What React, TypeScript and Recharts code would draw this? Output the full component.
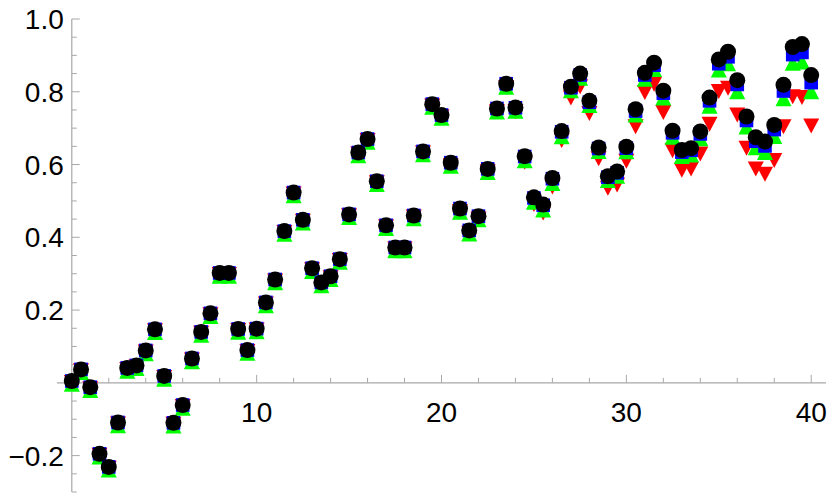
import React from "react";
import {
  ReferenceDot,
  ReferenceLine,
  Scatter,
  ScatterChart,
  XAxis,
  YAxis,
} from "recharts";

// x positions of the samples
const xs = [
  0, 0.5, 1, 1.5, 2, 2.5, 3, 3.5, 4, 4.5, 5, 5.5, 6, 6.5, 7, 7.5, 8, 8.5, 9,
  9.5, 10, 10.5, 11, 11.5, 12, 12.5, 13, 13.5, 14, 14.5, 15, 15.5, 16, 16.5,
  17, 17.5, 18, 18.5, 19, 19.5, 20, 20.5, 21, 21.5, 22, 22.5, 23, 23.5, 24,
  24.5, 25, 25.5, 26, 26.5, 27, 27.5, 28, 28.5, 29, 29.5, 30, 30.5, 31, 31.5,
  32, 32.5, 33, 33.5, 34, 34.5, 35, 35.5, 36, 36.5, 37, 37.5, 38, 38.5, 39,
  39.5, 40,
];

const blackVals = [
  0.005, 0.037, -0.012, -0.195, -0.231, -0.109, 0.041, 0.048, 0.089, 0.147,
  0.019, -0.11, -0.061, 0.067, 0.14, 0.191, 0.302, 0.302, 0.148, 0.09, 0.149,
  0.221, 0.284, 0.417, 0.523, 0.448, 0.315, 0.276, 0.293, 0.34, 0.463, 0.633,
  0.67, 0.554, 0.433, 0.372, 0.372, 0.46, 0.636, 0.766, 0.736, 0.605, 0.479,
  0.419, 0.458, 0.588, 0.754, 0.822, 0.757, 0.623, 0.51, 0.49, 0.563, 0.692,
  0.814, 0.85, 0.775, 0.647, 0.568, 0.581, 0.649, 0.752, 0.852, 0.88, 0.803,
  0.693, 0.64, 0.645, 0.691, 0.784, 0.889, 0.91, 0.832, 0.732, 0.675, 0.663,
  0.709, 0.819, 0.923, 0.931, 0.846,
];

const blueVals = [
  0.004, 0.036, -0.013, -0.196, -0.232, -0.11, 0.04, 0.047, 0.088, 0.146,
  0.018, -0.111, -0.062, 0.066, 0.139, 0.19, 0.301, 0.301, 0.147, 0.089, 0.148,
  0.22, 0.283, 0.416, 0.522, 0.447, 0.314, 0.275, 0.292, 0.339, 0.462, 0.632,
  0.669, 0.553, 0.432, 0.371, 0.371, 0.459, 0.635, 0.765, 0.735, 0.604, 0.478,
  0.418, 0.457, 0.587, 0.753, 0.821, 0.755, 0.621, 0.507, 0.487, 0.56, 0.689,
  0.81, 0.845, 0.77, 0.643, 0.564, 0.576, 0.644, 0.746, 0.845, 0.872, 0.795,
  0.686, 0.633, 0.638, 0.683, 0.774, 0.876, 0.895, 0.819, 0.72, 0.663, 0.65,
  0.695, 0.801, 0.901, 0.907, 0.824,
];

const greenVals = [
  0.003, 0.035, -0.014, -0.197, -0.233, -0.111, 0.039, 0.046, 0.087, 0.145,
  0.017, -0.112, -0.063, 0.065, 0.138, 0.189, 0.3, 0.3, 0.146, 0.088, 0.147,
  0.219, 0.282, 0.415, 0.521, 0.446, 0.313, 0.274, 0.291, 0.338, 0.461, 0.631,
  0.668, 0.552, 0.431, 0.37, 0.37, 0.458, 0.634, 0.764, 0.734, 0.602, 0.476,
  0.416, 0.455, 0.585, 0.751, 0.819, 0.753, 0.617, 0.503, 0.482, 0.555, 0.683,
  0.81, 0.844, 0.769, 0.643, 0.563, 0.575, 0.642, 0.743, 0.841, 0.868, 0.79,
  0.682, 0.629, 0.633, 0.678, 0.767, 0.867, 0.884, 0.807, 0.71, 0.653, 0.64,
  0.684, 0.788, 0.885, 0.889, 0.807,
];

const redVals = [
  0.001, 0.033, -0.016, -0.199, -0.235, -0.113, 0.037, 0.044, 0.085, 0.143,
  0.015, -0.114, -0.065, 0.063, 0.136, 0.187, 0.298, 0.298, 0.144, 0.086, 0.145,
  0.217, 0.28, 0.413, 0.519, 0.444, 0.311, 0.272, 0.289, 0.336, 0.459, 0.629,
  0.666, 0.55, 0.429, 0.368, 0.368, 0.456, 0.632, 0.761, 0.731, 0.597, 0.471,
  0.411, 0.45, 0.58, 0.745, 0.812, 0.745, 0.606, 0.49, 0.467, 0.538, 0.666,
  0.783, 0.814, 0.74, 0.616, 0.535, 0.544, 0.609, 0.704, 0.798, 0.821, 0.743,
  0.638, 0.584, 0.588, 0.629, 0.711, 0.801, 0.81, 0.736, 0.645, 0.588, 0.573,
  0.611, 0.704, 0.786, 0.784, 0.706,
];

const xMajorTicks = [10, 20, 30, 40];
const xMinorTicks = [2, 4, 6, 8, 12, 14, 16, 18, 22, 24, 26, 28, 32, 34, 36, 38];
const yMajorTicks = [-0.2, 0.2, 0.4, 0.6, 0.8, 1.0];
const yMinorTicks = [
  -0.3, -0.25, -0.15, -0.1, -0.05, 0.05, 0.1, 0.15, 0.25, 0.3, 0.35, 0.45, 0.5,
  0.55, 0.65, 0.7, 0.75, 0.85, 0.9, 0.95,
];

const AXIS = "#a8a8a8";
const FONT = "'Liberation Sans', Arial, sans-serif";

const toPoints = (vals: number[]) => xs.map((x, i) => ({ x, y: vals[i] }));

const CircleMark = (p: any) => <circle cx={p.cx} cy={p.cy} r={8} fill="#000000" />;
const SquareMark = (p: any) => (
  <rect x={p.cx - 6.8} y={p.cy - 7.2} width={13.6} height={13.6} fill="#0000ff" />
);
const UpMark = (p: any) => (
  <polygon
    points={`${p.cx - 8},${p.cy + 10} ${p.cx + 8},${p.cy + 10} ${p.cx},${p.cy - 6}`}
    fill="#00ff00"
  />
);
const DownMark = (p: any) => (
  <polygon
    points={`${p.cx - 8},${p.cy - 7.5} ${p.cx + 8},${p.cy - 7.5} ${p.cx},${p.cy + 7.5}`}
    fill="#ff0000"
  />
);

const fmtY = (v: number) => (v < 0 ? "\u2212" + Math.abs(v).toFixed(1) : v.toFixed(1));

export default function App() {
  return (
    <div style={{ position: "absolute", left: 0, top: 0 }}>
      <ScatterChart
        width={830}
        height={498}
        margin={{ top: 19, right: 4, bottom: 6, left: 57 }}
      >
        <XAxis type="number" dataKey="x" domain={[-0.8, 40.8]} allowDataOverflow hide />
        <YAxis type="number" dataKey="y" domain={[-0.3, 1.0]} allowDataOverflow hide />
        <ReferenceLine y={0} stroke={AXIS} strokeWidth={1.2} ifOverflow="visible" />
        <ReferenceLine x={0} stroke={AXIS} strokeWidth={1.2} ifOverflow="visible" />
        {xMinorTicks.map((t) => (
          <ReferenceDot
            key={"xm" + t}
            x={t}
            y={0}
            ifOverflow="visible"
            shape={(p: any) => (
              <line x1={p.cx} x2={p.cx} y1={p.cy} y2={p.cy - 5} stroke={AXIS} />
            )}
          />
        ))}
        {xMajorTicks.map((t) => (
          <ReferenceDot
            key={"xM" + t}
            x={t}
            y={0}
            ifOverflow="visible"
            shape={(p: any) => (
              <g>
                <line x1={p.cx} x2={p.cx} y1={p.cy} y2={p.cy - 8} stroke={AXIS} />
                <text
                  x={p.cx}
                  y={p.cy + 39}
                  textAnchor="middle"
                  fontFamily={FONT}
                  fontSize={28}
                  fill="#000"
                >
                  {t}
                </text>
              </g>
            )}
          />
        ))}
        {yMinorTicks.map((t) => (
          <ReferenceDot
            key={"ym" + t}
            x={0}
            y={t}
            ifOverflow="visible"
            shape={(p: any) => (
              <line x1={p.cx} x2={p.cx + 5} y1={p.cy} y2={p.cy} stroke={AXIS} />
            )}
          />
        ))}
        {yMajorTicks.map((t) => (
          <ReferenceDot
            key={"yM" + t}
            x={0}
            y={t}
            ifOverflow="visible"
            shape={(p: any) => (
              <g>
                <line x1={p.cx} x2={p.cx + 8} y1={p.cy} y2={p.cy} stroke={AXIS} />
                <text
                  x={p.cx - 8}
                  y={p.cy + 10}
                  textAnchor="end"
                  fontFamily={FONT}
                  fontSize={28}
                  fill="#000"
                >
                  {fmtY(t)}
                </text>
              </g>
            )}
          />
        ))}
        <Scatter data={toPoints(redVals)} shape={DownMark} isAnimationActive={false} />
        <Scatter data={toPoints(greenVals)} shape={UpMark} isAnimationActive={false} />
        <Scatter data={toPoints(blueVals)} shape={SquareMark} isAnimationActive={false} />
        <Scatter data={toPoints(blackVals)} shape={CircleMark} isAnimationActive={false} />
      </ScatterChart>
    </div>
  );
}
